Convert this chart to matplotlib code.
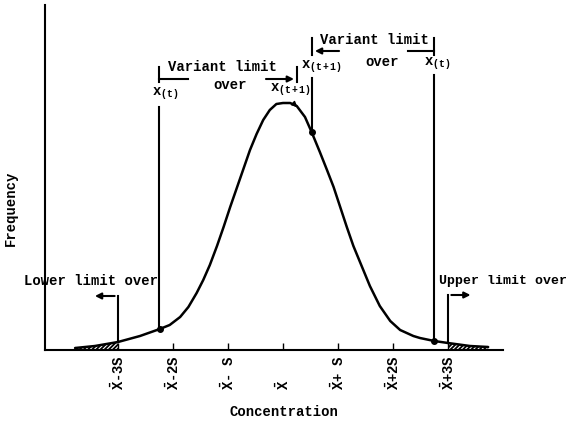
import numpy as np
import matplotlib
matplotlib.use('Agg')
import matplotlib.pyplot as plt

plt.rcParams['font.family'] = 'Liberation Mono'
plt.rcParams['font.weight'] = 'bold'
plt.rcParams['mathtext.fontset'] = 'custom'
plt.rcParams['mathtext.rm'] = 'Liberation Mono:bold'
plt.rcParams['mathtext.tt'] = 'Liberation Mono:bold'
plt.rcParams['mathtext.it'] = 'Liberation Mono:bold'
plt.rcParams['hatch.linewidth'] = 1.3

# concentration in units of S from the mean, frequency in arbitrary units
conc = [-3.78, -3.42, -3.0, -2.6, -2.24, -2.06, -1.87, -1.72, -1.57, -1.45, -1.33,
        -1.2, -1.08, -0.96, -0.84, -0.72, -0.6, -0.48, -0.36, -0.24, -0.12, 0.0,
        0.13, 0.25, 0.4, 0.52, 0.67, 0.8, 0.92, 1.04, 1.16, 1.28, 1.43, 1.58,
        1.76, 1.95, 2.13, 2.37, 2.49, 2.75, 3.0, 3.4, 3.73]
freq = [2, 4, 8, 14, 21, 25, 33, 43, 57, 70, 85,
        104, 123, 143, 162, 181, 200, 216, 230, 240, 246, 247,
        247, 244, 233, 218, 198, 180, 163, 143, 123, 104, 84, 64,
        44, 29, 20, 14, 12, 9, 7, 4, 3]

# marked points on the curve
mark_x = [-2.24, 0.52, 2.75]
mark_y = [21, 218, 9]

# limits
xt_lower, xt1_lower = -2.25, 0.25
xt1_upper, xt_upper = 0.53, 2.75
lower_limit, upper_limit = -3.0, 3.0

tick_pos = [-3, -2, -1, 0, 1, 2, 3]
tick_labels = [r'$\mathrm{\bar{X}}$-3S', r'$\mathrm{\bar{X}}$-2S', r'$\mathrm{\bar{X}}$- S',
               r'$\mathrm{\bar{X}}$', r'$\mathrm{\bar{X}}$+ S', r'$\mathrm{\bar{X}}$+2S',
               r'$\mathrm{\bar{X}}$+3S']

fig = plt.figure(figsize=(5.67, 4.32), dpi=100)
ax = fig.add_axes([45/567, 82/432, 458/567, 345/432])
ax.set_xlim(-4.327, 4.0)
ax.set_ylim(0, 345)
for s in ['top', 'right']:
    ax.spines[s].set_visible(False)
for s in ['left', 'bottom']:
    ax.spines[s].set_linewidth(1.5)
ax.set_yticks([])
ax.set_xticks(tick_pos)
ax.set_xticklabels([])
ax.tick_params(axis='x', direction='in', length=5, width=1)

conc = np.array(conc)
freq = np.array(freq)
ax.plot(conc, freq, color='black', lw=1.8, solid_capstyle='round',
        solid_joinstyle='round', clip_on=False)

lo = conc <= lower_limit
hi = conc >= upper_limit
ax.fill_between(conc[lo], freq[lo], 0, hatch='////////', facecolor='white', edgecolor='black', linewidth=0)
ax.fill_between(conc[hi], freq[hi], 0, hatch='////////', facecolor='white', edgecolor='black', linewidth=0)

ax.plot(mark_x, mark_y, 'o', color='black', ms=4)
ax.annotate('', xy=(0.3, 241), xytext=(0.2, 246),
            arrowprops=dict(arrowstyle='-|>', color='black', lw=1, mutation_scale=8))

lw = 1.5
# vertical lines for x(t) and x(t+1)
ax.plot([xt_lower, xt_lower], [mark_y[0], 243], color='black', lw=lw)
ax.plot([xt1_upper, xt1_upper], [mark_y[1], 272], color='black', lw=lw)
ax.plot([xt_upper, xt_upper], [mark_y[2], 275], color='black', lw=lw)

# lower / upper limit arrows
ax.plot([lower_limit, lower_limit], [8, 54], color='black', lw=lw)
ax.annotate('', xy=(-3.47, 54), xytext=(lower_limit - 0.01, 54),
            arrowprops=dict(arrowstyle='-|>', color='black', lw=lw, mutation_scale=9))
ax.plot([upper_limit, upper_limit], [7, 55], color='black', lw=lw)
ax.annotate('', xy=(3.46, 55), xytext=(upper_limit + 0.01, 55),
            arrowprops=dict(arrowstyle='-|>', color='black', lw=lw, mutation_scale=9))

# variant limit brackets
for xb in [xt_lower, xt1_lower]:
    ax.plot([xb, xb], [268, 283], color='black', lw=lw, clip_on=False)
ax.plot([xt_lower, -1.73], [271, 271], color='black', lw=lw)
ax.annotate('', xy=(xt1_lower, 271), xytext=(-0.36, 271),
            arrowprops=dict(arrowstyle='-|>', color='black', lw=lw, mutation_scale=9))
for xb in [xt1_upper, xt_upper]:
    ax.plot([xb, xb], [295, 312], color='black', lw=lw, clip_on=False)
ax.annotate('', xy=(xt1_upper, 299), xytext=(1.07, 299),
            arrowprops=dict(arrowstyle='-|>', color='black', lw=lw, mutation_scale=9))
ax.plot([2.27, xt_upper], [299, 299], color='black', lw=lw)

fs = 10
ax.text(-1.11, 283, 'Variant limit', ha='center', va='center', fontsize=fs)
ax.text(-0.96, 265, 'over', ha='center', va='center', fontsize=fs)
ax.text(1.655, 310, 'Variant limit', ha='center', va='center', fontsize=fs)
ax.text(1.8, 288, 'over', ha='center', va='center', fontsize=fs)
ax.text(-2.145, 256, r'$\mathrm{x_{(t)}}$', ha='center', va='center', fontsize=fs)
ax.text(0.127, 260, r'$\mathrm{x_{(t+1)}}$', ha='center', va='center', fontsize=fs)
ax.text(0.33, 283, r'$\mathrm{x_{(t+1)}}$', ha='left', va='center', fontsize=fs)
ax.text(2.8, 286, r'$\mathrm{x_{(t)}}$', ha='center', va='center', fontsize=fs)
ax.text(-3.49, 69, 'Lower limit over', ha='center', va='center', fontsize=fs, clip_on=False)
ax.text(2.83, 69, 'Upper limit over', ha='left', va='center', fontsize=9.5, clip_on=False)

for p, lab in zip(tick_pos, tick_labels):
    ax.text(p, -40, lab, rotation=90, ha='center', va='bottom', fontsize=fs, clip_on=False)

ax.text(0.02, -62, 'Concentration', ha='center', va='center', fontsize=fs, clip_on=False)
fig.text(11/567, 1 - 208/432, 'Frequency', rotation=90, ha='center', va='center', fontsize=fs)

plt.savefig('out.png', dpi=100)
